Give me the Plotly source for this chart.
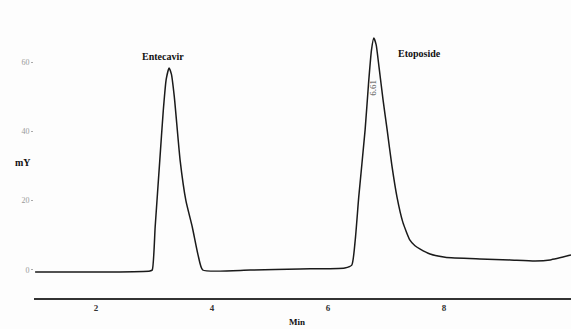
import plotly.graph_objects as go

time_min = [0.95, 2.24, 2.93, 2.97, 3.02, 3.10, 3.16, 3.21, 3.26, 3.30, 3.35, 3.45, 3.55, 3.66, 3.76, 3.84,
            4.66, 5.52, 6.29, 6.41, 6.47, 6.53, 6.64, 6.70, 6.75, 6.79, 6.83, 6.88, 6.95, 7.02, 7.10, 7.19,
            7.29, 7.41, 7.50, 7.59, 7.76, 8.02, 8.62, 9.14, 9.57, 9.83, 10.19]
signal_mv = [-0.6, -0.6, -0.3, 0.0, 12.4, 31.7, 46.0, 55.0, 58.3, 56.5, 50.0, 31.7, 20.0, 12.4, 4.3, 0.0,
             0.0, 0.3, 0.6, 1.4, 8.7, 21.0, 40.4, 54.0, 63.5, 66.9, 65.0, 58.5, 49.0, 40.4, 30.3, 21.0,
             13.8, 8.7, 7.0, 6.0, 4.6, 3.7, 3.2, 2.9, 2.6, 2.9, 4.3]

x_ticks = [2, 4, 6, 8]
y_ticks = [0, 20, 40, 60]

peak_labels = ["Entecavir", "Etoposide"]
peak_label_pos = [(3.16, 61.5), (7.57, 62.5)]
rt_label = "6.61"
rt_label_pos = (6.77, 52.5)

serif_b = "Liberation Serif"

fig = go.Figure()
fig.add_trace(go.Scatter(x=time_min, y=signal_mv, mode="lines",
                         line=dict(color="#1a1a1a", width=1.5, shape="spline", smoothing=0.5),
                         hoverinfo="skip"))

fig.add_annotation(x=peak_label_pos[0][0], y=peak_label_pos[0][1], text="<b>" + peak_labels[0] + "</b>",
                   showarrow=False, font=dict(family=serif_b, size=10, color="#111"), xanchor="center")
fig.add_annotation(x=peak_label_pos[1][0], y=peak_label_pos[1][1], text="<b>" + peak_labels[1] + "</b>",
                   showarrow=False, font=dict(family=serif_b, size=10, color="#111"), xanchor="center")
fig.add_annotation(x=rt_label_pos[0], y=rt_label_pos[1], text=rt_label, textangle=-90,
                   showarrow=False, font=dict(family=serif_b, size=9, color="#444"))
fig.add_annotation(xref="paper", yref="paper", x=-0.04, y=0.47, text="<b>mY</b>",
                   showarrow=False, font=dict(family=serif_b, size=10, color="#111"))
fig.add_annotation(xref="paper", yref="paper", x=0.49, y=-0.083, yanchor="middle", text="<b>Min</b>",
                   showarrow=False, font=dict(family=serif_b, size=9, color="#111"))

fig.update_layout(
    width=571, height=329,
    margin=dict(l=34, r=0, t=10, b=31),
    paper_bgcolor="#fdfdfd", plot_bgcolor="#fdfdfd",
    showlegend=False,
    xaxis=dict(range=[0.931, 10.19], tickvals=x_ticks, ticktext=["<b>%d</b>" % v for v in x_ticks],
               showgrid=False, zeroline=False, showline=True, linecolor="#333", linewidth=1.5,
               ticks="", tickfont=dict(family=serif_b, size=9, color="#333")),
    yaxis=dict(range=[-8.08, 75.0], tickvals=y_ticks, ticktext=[str(v) for v in y_ticks],
               showgrid=False, zeroline=False, showline=False, ticks="outside", ticklen=2,
               tickcolor="#aaa", tickfont=dict(family=serif_b, size=8, color="#999")),
)

fig.write_html("out.html")
